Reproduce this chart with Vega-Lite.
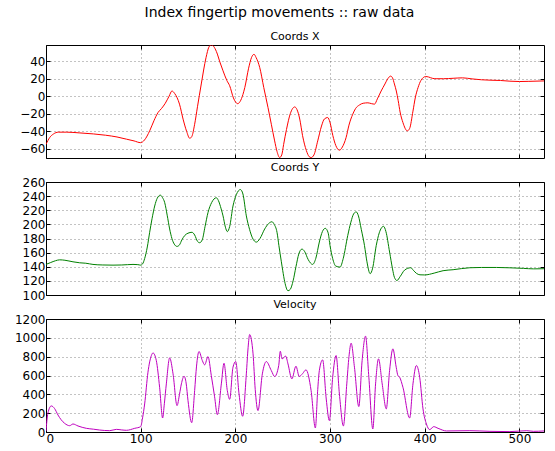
{
  "$schema": "https://vega.github.io/schema/vega-lite/v6.json",
  "title": {"text": "Index fingertip movements :: raw data", "fontSize": 14, "offset": 10, "anchor": "middle"},
  "padding": {"left": 13, "top": 6, "right": 10, "bottom": 5},
  "spacing": 24,
  "bounds": "flush",
  "config": {
    "font": "DejaVu Sans",
    "view": {"stroke": "black", "strokeWidth": 1},
    "axis": {"domain": false, "grid": true, "gridColor": "black", "gridDash": [1, 3], "gridWidth": 0.6, "gridOpacity": 0.8, "tickColor": "black", "tickSize": -4, "labelColor": "black", "labelFont": "DejaVu Sans", "labelFontSize": 12, "labelPadding": 5, "title": null},
    "title": {"font": "DejaVu Sans", "fontWeight": "normal", "fontSize": 11, "color": "black"}
  },
  "datasets": {
    "cx": [
      {"x": 0, "y": -55}, {"x": 4, "y": -47}, {"x": 8, "y": -43}, {"x": 13, "y": -41}, {"x": 22, "y": -41}, {"x": 35, "y": -41.8}, {"x": 50, "y": -43}, {"x": 63, "y": -44.5}, {"x": 75, "y": -46.5}, {"x": 85, "y": -49}, {"x": 93, "y": -51}, {"x": 100, "y": -53},
      {"x": 104, "y": -50}, {"x": 109.5, "y": -39.5}, {"x": 114, "y": -28}, {"x": 118.3, "y": -18.6}, {"x": 122, "y": -14}, {"x": 126, "y": -8}, {"x": 130, "y": 0}, {"x": 133, "y": 6}, {"x": 136, "y": 3}, {"x": 141, "y": -9}, {"x": 145, "y": -27}, {"x": 148.5, "y": -40}, {"x": 151.8, "y": -48}, {"x": 154, "y": -46}, {"x": 157, "y": -32}, {"x": 160, "y": -12}, {"x": 164, "y": 14}, {"x": 169, "y": 44}, {"x": 172, "y": 56}, {"x": 174.6, "y": 58.8}, {"x": 177, "y": 57}, {"x": 180, "y": 51}, {"x": 184, "y": 38}, {"x": 187, "y": 29}, {"x": 191, "y": 18}, {"x": 194, "y": 12}, {"x": 198, "y": -2}, {"x": 202.5, "y": -8.5}, {"x": 205, "y": -6}, {"x": 208, "y": 2}, {"x": 210, "y": 10}, {"x": 214, "y": 32}, {"x": 217, "y": 44}, {"x": 219.7, "y": 47.9}, {"x": 222, "y": 44}, {"x": 225.7, "y": 33}, {"x": 230, "y": 10}, {"x": 234.5, "y": -13}, {"x": 238, "y": -32}, {"x": 241.5, "y": -51}, {"x": 244, "y": -63}, {"x": 246.8, "y": -70}, {"x": 249, "y": -67}, {"x": 251, "y": -55}, {"x": 254, "y": -38}, {"x": 258, "y": -20}, {"x": 262.7, "y": -12.2}, {"x": 265, "y": -15}, {"x": 268, "y": -26}, {"x": 271, "y": -45}, {"x": 275, "y": -62}, {"x": 278, "y": -69}, {"x": 280, "y": -70}, {"x": 283, "y": -67}, {"x": 287, "y": -51}, {"x": 291, "y": -34}, {"x": 294, "y": -26}, {"x": 297.5, "y": -24.3}, {"x": 300, "y": -30}, {"x": 303, "y": -45}, {"x": 306, "y": -56}, {"x": 309.9, "y": -61.6}, {"x": 313, "y": -58}, {"x": 317, "y": -47}, {"x": 320, "y": -33}, {"x": 324, "y": -20.5}, {"x": 327, "y": -14}, {"x": 331, "y": -10}, {"x": 335, "y": -8}, {"x": 340, "y": -7.5}, {"x": 344, "y": -8.5}, {"x": 347, "y": -9}, {"x": 350, "y": -3}, {"x": 354, "y": 6}, {"x": 358, "y": 14}, {"x": 361, "y": 20}, {"x": 364, "y": 23}, {"x": 366, "y": 21}, {"x": 368, "y": 14}, {"x": 370, "y": 6}, {"x": 372, "y": -5}, {"x": 374, "y": -18}, {"x": 377, "y": -30}, {"x": 381.6, "y": -39.5}, {"x": 384, "y": -37}, {"x": 387.6, "y": -17}, {"x": 390, "y": -2}, {"x": 393, "y": 10}, {"x": 396, "y": 18}, {"x": 401, "y": 22.5}, {"x": 404, "y": 22}, {"x": 408, "y": 20.5}, {"x": 412, "y": 20}, {"x": 420, "y": 20}, {"x": 430, "y": 20.5}, {"x": 440, "y": 21}, {"x": 450, "y": 19.8}, {"x": 460, "y": 18.8}, {"x": 470, "y": 18.3}, {"x": 480, "y": 18}, {"x": 490, "y": 17.2}, {"x": 500, "y": 16.8}, {"x": 510, "y": 17}, {"x": 526, "y": 17.5}
    ],
    "cy": [
      {"x": 0, "y": 143.3}, {"x": 5, "y": 146}, {"x": 10, "y": 148.5}, {"x": 14.4, "y": 149.8}, {"x": 20, "y": 149.2}, {"x": 28.5, "y": 147}, {"x": 35.6, "y": 145.6}, {"x": 42, "y": 145}, {"x": 49.6, "y": 143.3}, {"x": 60, "y": 142.5}, {"x": 70.8, "y": 142.3}, {"x": 80, "y": 142.5}, {"x": 91.9, "y": 143.3}, {"x": 97, "y": 143}, {"x": 100, "y": 142.3},
      {"x": 102, "y": 144}, {"x": 104.2, "y": 151.6}, {"x": 107, "y": 168}, {"x": 109.5, "y": 188.8}, {"x": 112, "y": 208}, {"x": 114.8, "y": 226}, {"x": 117.5, "y": 237}, {"x": 120.8, "y": 241.4}, {"x": 123, "y": 238}, {"x": 125.4, "y": 230.7}, {"x": 128, "y": 213}, {"x": 130.6, "y": 193.5}, {"x": 133, "y": 180}, {"x": 135.5, "y": 172}, {"x": 138.4, "y": 168.8}, {"x": 141, "y": 171}, {"x": 143.5, "y": 178}, {"x": 146.5, "y": 184.2}, {"x": 150, "y": 187.5}, {"x": 154.2, "y": 188.8}, {"x": 157, "y": 185}, {"x": 160, "y": 176}, {"x": 162.3, "y": 174}, {"x": 165, "y": 178}, {"x": 168, "y": 197}, {"x": 171.1, "y": 216.7}, {"x": 175, "y": 231}, {"x": 179.9, "y": 237.7}, {"x": 182, "y": 234}, {"x": 185, "y": 222}, {"x": 187, "y": 212}, {"x": 189.5, "y": 196}, {"x": 191.5, "y": 189.8}, {"x": 194, "y": 197}, {"x": 197.5, "y": 226}, {"x": 201, "y": 242}, {"x": 205.3, "y": 249.3}, {"x": 208, "y": 243}, {"x": 211.6, "y": 212}, {"x": 215, "y": 193}, {"x": 218, "y": 181}, {"x": 222.2, "y": 174.9}, {"x": 226, "y": 180}, {"x": 231, "y": 193.5}, {"x": 235, "y": 201}, {"x": 238.7, "y": 203.7}, {"x": 241, "y": 200}, {"x": 244, "y": 188.8}, {"x": 246, "y": 170}, {"x": 248.6, "y": 147}, {"x": 250, "y": 135}, {"x": 252.1, "y": 119}, {"x": 255.6, "y": 106}, {"x": 258, "y": 108}, {"x": 261, "y": 120}, {"x": 264, "y": 140}, {"x": 267, "y": 158}, {"x": 270.3, "y": 165}, {"x": 273, "y": 162}, {"x": 277, "y": 150}, {"x": 281.6, "y": 143.3}, {"x": 285, "y": 152}, {"x": 288.7, "y": 175}, {"x": 292, "y": 190}, {"x": 295, "y": 194.4}, {"x": 298, "y": 188}, {"x": 300, "y": 170}, {"x": 302.8, "y": 151.6}, {"x": 306, "y": 141}, {"x": 310.6, "y": 139.5}, {"x": 314, "y": 152}, {"x": 318.7, "y": 184.2}, {"x": 322, "y": 203}, {"x": 325, "y": 215}, {"x": 327.6, "y": 217.7}, {"x": 330, "y": 212}, {"x": 333, "y": 193}, {"x": 336.4, "y": 170}, {"x": 339, "y": 147}, {"x": 342.4, "y": 130.2}, {"x": 345, "y": 138}, {"x": 348.8, "y": 170}, {"x": 352, "y": 188}, {"x": 356.5, "y": 197.2}, {"x": 359, "y": 190}, {"x": 362.9, "y": 160.9}, {"x": 366, "y": 137}, {"x": 368, "y": 125}, {"x": 370.7, "y": 120.5}, {"x": 374, "y": 126}, {"x": 378.8, "y": 135.3}, {"x": 385.2, "y": 138.6}, {"x": 388, "y": 135}, {"x": 391.2, "y": 130.7}, {"x": 395, "y": 128.6}, {"x": 400, "y": 128.4}, {"x": 410, "y": 131}, {"x": 419.4, "y": 134.4}, {"x": 430, "y": 135.8}, {"x": 447.7, "y": 138.6}, {"x": 460, "y": 139}, {"x": 476, "y": 139}, {"x": 490, "y": 138.5}, {"x": 504.2, "y": 137.7}, {"x": 515, "y": 137}, {"x": 526, "y": 137.2}
    ],
    "vel": [
      {"x": 0, "y": 10}, {"x": 2, "y": 200}, {"x": 5.6, "y": 277}, {"x": 9, "y": 250}, {"x": 12.7, "y": 180}, {"x": 16, "y": 130}, {"x": 19.7, "y": 92}, {"x": 25, "y": 67}, {"x": 28.5, "y": 85}, {"x": 33.8, "y": 64}, {"x": 42.6, "y": 39}, {"x": 50, "y": 30}, {"x": 56.7, "y": 21}, {"x": 67.3, "y": 14}, {"x": 74.3, "y": 28}, {"x": 80, "y": 22}, {"x": 84.9, "y": 18}, {"x": 93.7, "y": 39}, {"x": 100, "y": 57},
      {"x": 102, "y": 150}, {"x": 104.2, "y": 298}, {"x": 107.7, "y": 635}, {"x": 111.3, "y": 812}, {"x": 113, "y": 840}, {"x": 116.5, "y": 759}, {"x": 120, "y": 475}, {"x": 123.2, "y": 149}, {"x": 125, "y": 300}, {"x": 127.1, "y": 511}, {"x": 130.6, "y": 787}, {"x": 134.2, "y": 617}, {"x": 138.4, "y": 280}, {"x": 141, "y": 400}, {"x": 143, "y": 511}, {"x": 145.8, "y": 592}, {"x": 148, "y": 520}, {"x": 150, "y": 333}, {"x": 153.9, "y": 99}, {"x": 157, "y": 440}, {"x": 159, "y": 700}, {"x": 161.6, "y": 855}, {"x": 165.1, "y": 759}, {"x": 167.6, "y": 713}, {"x": 171.1, "y": 801}, {"x": 174.6, "y": 599}, {"x": 178, "y": 380}, {"x": 181, "y": 184}, {"x": 185.2, "y": 511}, {"x": 188, "y": 730}, {"x": 191.5, "y": 440}, {"x": 194, "y": 347}, {"x": 197.5, "y": 688}, {"x": 200.4, "y": 748}, {"x": 203.9, "y": 404}, {"x": 207.7, "y": 167}, {"x": 211.6, "y": 617}, {"x": 213.5, "y": 900}, {"x": 215.1, "y": 1035}, {"x": 218.7, "y": 830}, {"x": 221, "y": 450}, {"x": 223.9, "y": 227}, {"x": 228.5, "y": 617}, {"x": 232.7, "y": 748}, {"x": 238, "y": 652}, {"x": 241.5, "y": 589}, {"x": 245.8, "y": 706}, {"x": 247.5, "y": 858}, {"x": 249.3, "y": 777}, {"x": 253.2, "y": 805}, {"x": 255.6, "y": 723}, {"x": 259.7, "y": 564}, {"x": 264, "y": 699}, {"x": 267.5, "y": 589}, {"x": 271, "y": 620}, {"x": 274.6, "y": 660}, {"x": 280, "y": 440}, {"x": 284.5, "y": 43}, {"x": 287, "y": 450}, {"x": 288.7, "y": 652}, {"x": 292.2, "y": 766}, {"x": 296, "y": 350}, {"x": 299.3, "y": 121}, {"x": 302.8, "y": 582}, {"x": 306.4, "y": 812}, {"x": 309.9, "y": 404}, {"x": 314.1, "y": 64}, {"x": 317.7, "y": 511}, {"x": 320, "y": 800}, {"x": 322.3, "y": 943}, {"x": 325.8, "y": 688}, {"x": 330.4, "y": 270}, {"x": 333.9, "y": 759}, {"x": 337.5, "y": 1018}, {"x": 341, "y": 582}, {"x": 345.2, "y": 32}, {"x": 348.1, "y": 511}, {"x": 351.2, "y": 777}, {"x": 355.1, "y": 511}, {"x": 359.4, "y": 245}, {"x": 362.9, "y": 652}, {"x": 366.4, "y": 883}, {"x": 369.9, "y": 688}, {"x": 371.7, "y": 599}, {"x": 373.5, "y": 582}, {"x": 377, "y": 475}, {"x": 384.1, "y": 149}, {"x": 387.6, "y": 511}, {"x": 391.2, "y": 706}, {"x": 394.7, "y": 582}, {"x": 398.2, "y": 245}, {"x": 401.8, "y": 85}, {"x": 405.3, "y": 25}, {"x": 409.5, "y": 57}, {"x": 414.1, "y": 39}, {"x": 423, "y": 11}, {"x": 447.7, "y": 14}, {"x": 468.9, "y": 7}, {"x": 490, "y": 4}, {"x": 507.8, "y": 14}, {"x": 514.8, "y": 7}, {"x": 526, "y": 11}
    ]
  },
  "vconcat": [
    {
      "title": {"text": "Coords X", "offset": 3},
      "width": 498, "height": 113,
      "data": {"name": "cx"},
      "layer": [
        {
          "mark": {"type": "line", "color": "#ff0000", "strokeWidth": 1, "interpolate": "monotone", "clip": true},
          "encoding": {
            "x": {"field": "x", "type": "quantitative", "scale": {"domain": [0, 526], "nice": false}, "axis": {"values": [0, 100, 200, 300, 400, 500], "labels": false}},
            "y": {"field": "y", "type": "quantitative", "scale": {"domain": [-70.5, 58.5], "nice": false, "zero": false}, "axis": {"values": [-60, -40, -20, 0, 20, 40]}}
          }
        },
        {
          "mark": {"type": "line", "opacity": 0, "clip": true},
          "encoding": {
            "x": {"field": "x", "type": "quantitative", "axis": {"orient": "top", "values": [0, 100, 200, 300, 400, 500], "labels": false, "grid": false}},
            "y": {"field": "y", "type": "quantitative", "axis": {"orient": "right", "values": [-60, -40, -20, 0, 20, 40], "labels": false, "grid": false}}
          }
        }
      ],
      "resolve": {"axis": {"x": "independent", "y": "independent"}}
    },
    {
      "title": {"text": "Coords Y", "offset": 3},
      "width": 498, "height": 113,
      "data": {"name": "cy"},
      "layer": [
        {
          "mark": {"type": "line", "color": "#008000", "strokeWidth": 1, "interpolate": "monotone", "clip": true},
          "encoding": {
            "x": {"field": "x", "type": "quantitative", "scale": {"domain": [0, 526], "nice": false}, "axis": {"values": [0, 100, 200, 300, 400, 500], "labels": false}},
            "y": {"field": "y", "type": "quantitative", "scale": {"domain": [100, 260], "nice": false, "zero": false}, "axis": {"values": [100, 120, 140, 160, 180, 200, 220, 240, 260]}}
          }
        },
        {
          "mark": {"type": "line", "opacity": 0, "clip": true},
          "encoding": {
            "x": {"field": "x", "type": "quantitative", "axis": {"orient": "top", "values": [0, 100, 200, 300, 400, 500], "labels": false, "grid": false}},
            "y": {"field": "y", "type": "quantitative", "axis": {"orient": "right", "values": [100, 120, 140, 160, 180, 200, 220, 240, 260], "labels": false, "grid": false}}
          }
        }
      ],
      "resolve": {"axis": {"x": "independent", "y": "independent"}}
    },
    {
      "title": {"text": "Velocity", "offset": 3},
      "width": 498, "height": 113,
      "data": {"name": "vel"},
      "layer": [
        {
          "mark": {"type": "line", "color": "#bf00bf", "strokeWidth": 1, "interpolate": "monotone", "clip": true},
          "encoding": {
            "x": {"field": "x", "type": "quantitative", "scale": {"domain": [0, 526], "nice": false}, "axis": {"values": [0, 100, 200, 300, 400, 500]}},
            "y": {"field": "y", "type": "quantitative", "scale": {"domain": [0, 1200], "nice": false, "zero": false}, "axis": {"values": [0, 200, 400, 600, 800, 1000, 1200], "format": "d"}}
          }
        },
        {
          "mark": {"type": "line", "opacity": 0, "clip": true},
          "encoding": {
            "x": {"field": "x", "type": "quantitative", "axis": {"orient": "top", "values": [0, 100, 200, 300, 400, 500], "labels": false, "grid": false}},
            "y": {"field": "y", "type": "quantitative", "axis": {"orient": "right", "values": [0, 200, 400, 600, 800, 1000, 1200], "labels": false, "grid": false}}
          }
        }
      ],
      "resolve": {"axis": {"x": "independent", "y": "independent"}}
    }
  ]
}
